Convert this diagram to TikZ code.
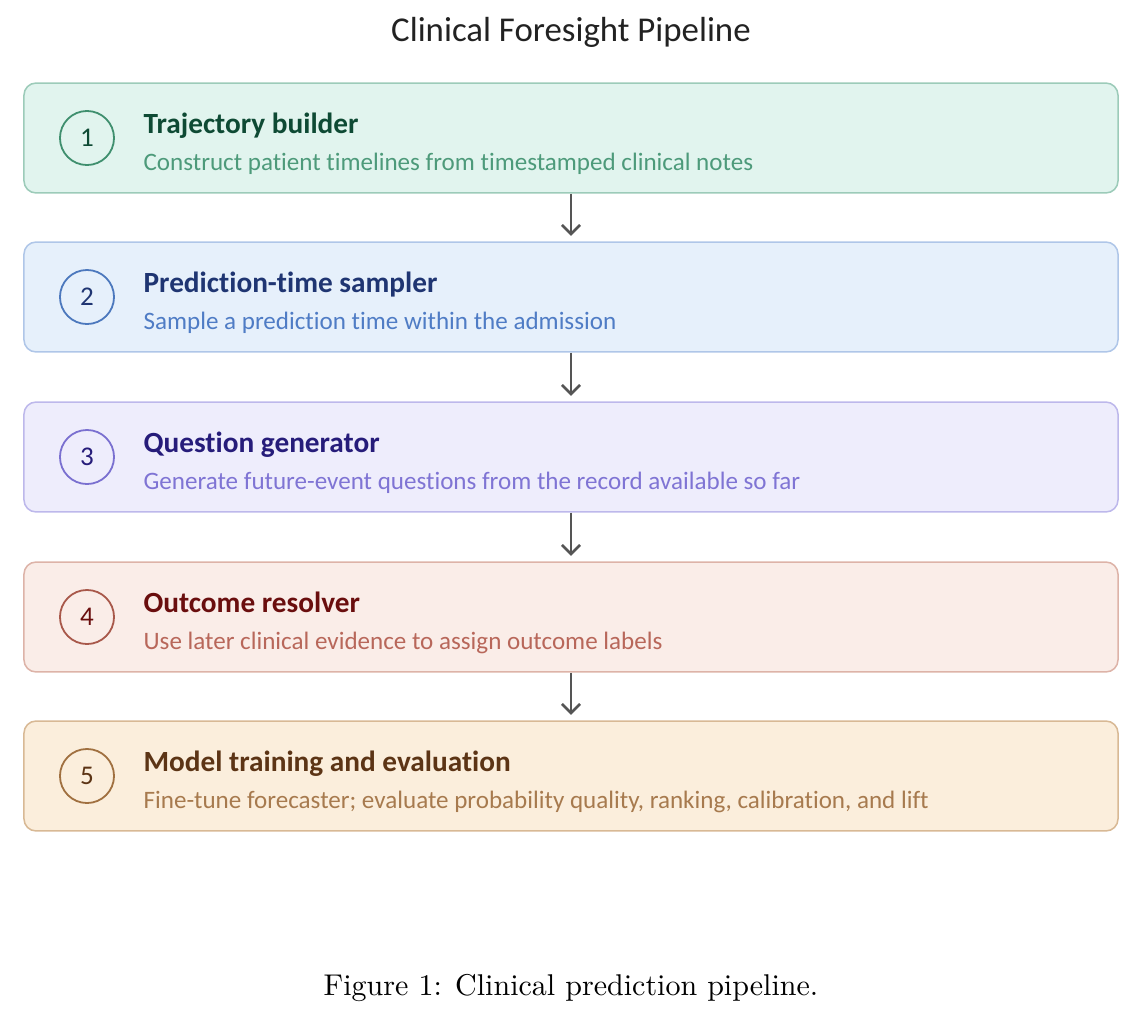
\documentclass[tikz,border=0pt]{standalone}
\usepackage{fontspec}
\usetikzlibrary{arrows.meta}
\newfontfamily\stagefont[Ligatures=CommonOff]{Carlito}

% stage colours
\definecolor{grnfill}{HTML}{E1F4EE}\definecolor{grnline}{HTML}{9CCBB9}
\definecolor{grnring}{HTML}{3F8F6E}\definecolor{grnhead}{HTML}{0E4A34}\definecolor{grntext}{HTML}{4D9A7A}
\definecolor{blufill}{HTML}{E6F0FB}\definecolor{bluline}{HTML}{AFC6E8}
\definecolor{bluring}{HTML}{4C78BD}\definecolor{bluhead}{HTML}{1F3572}\definecolor{blutext}{HTML}{4F7CC5}
\definecolor{purfill}{HTML}{EEEDFC}\definecolor{purline}{HTML}{BDB8EB}
\definecolor{purring}{HTML}{7A70D0}\definecolor{purhead}{HTML}{261C7A}\definecolor{purtext}{HTML}{7F74D4}
\definecolor{redfill}{HTML}{FAEDE8}\definecolor{redline}{HTML}{DDB3A8}
\definecolor{redring}{HTML}{A8584A}\definecolor{redhead}{HTML}{6A0E0E}\definecolor{redtext}{HTML}{B8675A}
\definecolor{orgfill}{HTML}{FBEEDC}\definecolor{orgline}{HTML}{D8B995}
\definecolor{orgring}{HTML}{A07040}\definecolor{orghead}{HTML}{5C3415}\definecolor{orgtext}{HTML}{A77A4E}
\definecolor{flowgray}{HTML}{555555}
\definecolor{titlegray}{HTML}{222222}

\tikzset{
  stagebox/.style={rounded corners=4pt, line width=0.5pt, minimum width=364.3pt, minimum height=36.6pt, inner sep=0pt},
  numring/.style={circle, line width=0.6pt, minimum size=18pt, inner sep=0pt, font=\stagefont\fontsize{9}{10}\selectfont},
  stagehead/.style={anchor=base west, inner sep=0pt, font=\stagefont\bfseries\fontsize{9.75}{11}\selectfont},
  stagetext/.style={anchor=base west, inner sep=0pt, font=\stagefont\fontsize{8.35}{10}\selectfont},
  flow/.style={draw=flowgray, line width=0.9pt, -{Straight Barb[length=3pt,width=6pt]}, shorten >=1.8pt}
}

\begin{document}
\begin{tikzpicture}[x=0.333pt,y=0.333pt,yscale=-1]
\useasboundingbox (0,0) rectangle (1142,1017);

% Title
\node [anchor=base, inner sep=0pt, text=titlegray, font=\stagefont\fontsize{11.6}{13}\selectfont] (title) at (571,41) {Clinical Foresight Pipeline};

%Rounded Rect 1
\node [stagebox, draw=grnline, fill=grnfill] (b1) at (571,138) {};
\node [numring, draw=grnring, text=grnhead] (n1) at (87,138) {1};
\node [stagehead, text=grnhead] (h1) at (143,133) {Trajectory builder};
\node [stagetext, text=grntext] (s1) at (143,170) {Construct patient timelines from timestamped clinical notes};

%Rounded Rect 2
\node [stagebox, draw=bluline, fill=blufill] (b2) at (571,297) {};
\node [numring, draw=bluring, text=bluhead] (n2) at (87,297) {2};
\node [stagehead, text=bluhead] (h2) at (143,292) {Prediction-time sampler};
\node [stagetext, text=blutext] (s2) at (143,329) {Sample a prediction time within the admission};

%Rounded Rect 3
\node [stagebox, draw=purline, fill=purfill] (b3) at (571,457) {};
\node [numring, draw=purring, text=purhead] (n3) at (87,457) {3};
\node [stagehead, text=purhead] (h3) at (143,452) {Question generator};
\node [stagetext, text=purtext] (s3) at (143,489) {Generate future-event questions from the record available so far};

%Rounded Rect 4
\node [stagebox, draw=redline, fill=redfill] (b4) at (571,617) {};
\node [numring, draw=redring, text=redhead] (n4) at (87,617) {4};
\node [stagehead, text=redhead] (h4) at (143,612) {Outcome resolver};
\node [stagetext, text=redtext] (s4) at (143,649) {Use later clinical evidence to assign outcome labels};

%Rounded Rect 5
\node [stagebox, draw=orgline, fill=orgfill] (b5) at (571,776) {};
\node [numring, draw=orgring, text=orghead] (n5) at (87,776) {5};
\node [stagehead, text=orghead] (h5) at (143,771) {Model training and evaluation};
\node [stagetext, text=orgtext] (s5) at (143,808) {Fine-tune forecaster; evaluate probability quality, ranking, calibration, and lift};

% Arrows
\draw [flow] (b1) -- (b2);
\draw [flow] (b2) -- (b3);
\draw [flow] (b3) -- (b4);
\draw [flow] (b4) -- (b5);

% Caption
\node [anchor=base, inner sep=0pt, font=\fontsize{10}{12}\selectfont] (caption) at (571,995) {Figure 1: Clinical prediction pipeline.};
\end{tikzpicture}
\end{document}
